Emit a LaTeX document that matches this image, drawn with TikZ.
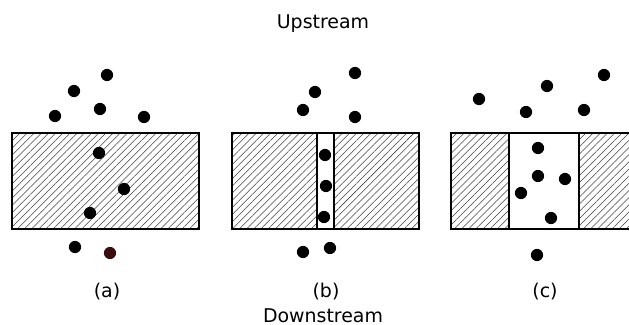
\documentclass[tikz,border=0pt]{standalone}
\usepackage{fontspec}
\setmainfont{DejaVu Sans}
\usetikzlibrary{patterns.meta}
\definecolor{dotred}{RGB}{58,14,14}
\tikzset{
  hatched/.style={pattern={Lines[angle=45,distance=3.8pt,line width=0.4pt]},pattern color=black!75},
  wall/.style={draw,line width=1.1pt},
  particle/.style={fill=black},
  caption/.style={font=\fontsize{14.2}{16}\selectfont,anchor=base}
}
\begin{document}
\begin{tikzpicture}[x=0.75pt,y=-0.75pt]
	\useasboundingbox (0,0) rectangle (629,325);
	\clip (0,0) rectangle (629,325);
	% (a) closed wall
	\fill[hatched] (12,133) rectangle (199,229);
	\draw[wall] (12,133) rectangle (199,229);
	% (b) thin slit
	\fill[hatched] (232,133) rectangle (317,229);
	\fill[hatched] (334,133) rectangle (419,229);
	\draw[wall] (232,133) rectangle (419,229);
	\draw[wall] (317,133) -- (317,229) (334,133) -- (334,229);
	% (c) wide opening
	\fill[hatched] (451,133) rectangle (509,229);
	\fill[hatched] (579,133) rectangle (640,229);
	\draw[wall] (451,133) rectangle (640,229);
	\draw[wall] (509,133) -- (509,229) (579,133) -- (579,229);
	% particles
	\foreach \x/\y in {107/75, 74/91, 100/109, 55/116, 144/117, 99/153, 124/189, 90/213, 75/247,
		355/73, 315/92, 303/110, 355/117, 325/155, 326/186, 324/217, 303/252, 330/248,
		604/75, 547/86, 479/99, 526/112, 584/110, 538/148, 538/176, 565/179, 521/193, 551/218, 537/255}
		\fill[particle] (\x,\y) circle[radius=4.6pt];
	\fill[particle,fill=dotred] (110,253) circle[radius=4.6pt];
	% labels
	\node[caption] (up) at (323,28) {Upstream};
	\node[caption] (capa) at (107,297) {(a)};
	\node[caption] (capb) at (326,297) {(b)};
	\node[caption] (capc) at (545,297) {(c)};
	\node[caption] (down) at (323,322) {Downstream};
\end{tikzpicture}
\end{document}
